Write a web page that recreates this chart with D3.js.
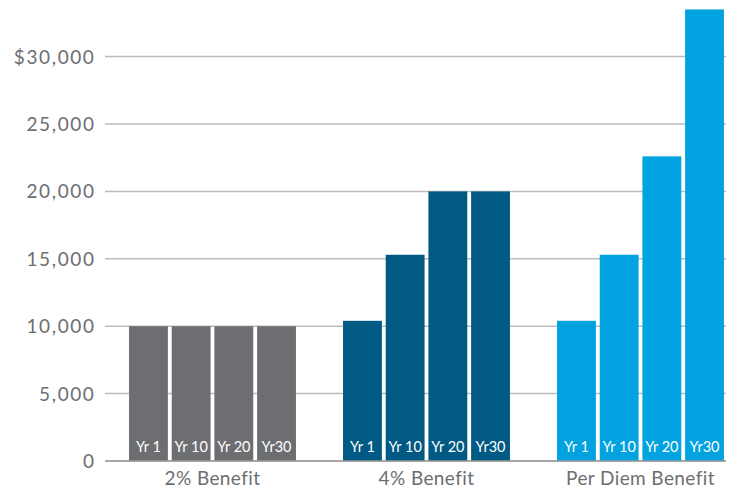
<!DOCTYPE html>
<html>
<head>
<meta charset="utf-8">
<script src="https://cdn.jsdelivr.net/npm/d3@7"></script>
<style>
  body { margin: 0; background: #fff; }
  svg text { font-family: "Lato", "Open Sans", sans-serif; }
</style>
</head>
<body>
<svg id="chart" width="732" height="491"></svg>
<script>
// data
const groups = ["2% Benefit", "4% Benefit", "Per Diem Benefit"];
const years = ["Yr 1", "Yr 10", "Yr 20", "Yr30"];
const benefit2 = [10000, 10000, 10000, 10000];
const benefit4 = [10400, 15300, 20000, 20000];
const perDiem = [10400, 15300, 22600, 33500];
const yTicks = [0, 5000, 10000, 15000, 20000, 25000, 30000];
const colors = ["#6d6e71", "#005a84", "#00a3e0"];

const series = [benefit2, benefit4, perDiem];

let svg = d3.select("#chart");

let x0 = d3.scaleBand()
    .domain(groups)
    .range([105.5, 747.5])
    .paddingInner(0.22)
    .paddingOuter(0.11);

let x1 = d3.scaleBand()
    .domain(years)
    .range([0, x0.bandwidth()])
    .paddingInner(0.09);

let y = d3.scaleLinear()
    .domain([0, 30000])
    .range([461, 56.6]);

// gridlines
svg.selectAll(".grid")
    .data(yTicks)
    .enter().append("line")
    .attr("class", "grid")
    .attr("x1", 105)
    .attr("x2", 726)
    .attr("y1", d => y(d))
    .attr("y2", d => y(d))
    .attr("stroke", "#bcbcbc")
    .attr("stroke-width", 1.5);

// y labels (letter-spacing to get close to the wider original face)
svg.selectAll(".ylab")
    .data(yTicks)
    .enter().append("text")
    .attr("class", "ylab")
    .attr("x", 95.5)
    .attr("y", d => y(d) + 7)
    .attr("text-anchor", "end")
    .attr("fill", "#6d6e71")
    .style("font-size", "19px")
    .style("letter-spacing", "1.6px")
    .text(d => d === 30000 ? "$" + d3.format(",")(d) : d3.format(",")(d));

// bars
let g = svg.selectAll(".group")
    .data(groups)
    .enter().append("g")
    .attr("class", "group")
    .attr("transform", d => `translate(${x0(d)},0)`);

g.each(function (grp, gi) {
    let vals = series[gi].map((v, i) => ({year: years[i], value: v}));
    let sel = d3.select(this);

    sel.selectAll("rect")
        .data(vals)
        .enter().append("rect")
        .attr("x", d => x1(d.year))
        .attr("width", x1.bandwidth())
        .attr("y", d => y(d.value))
        .attr("height", d => y(0) - y(d.value))
        .attr("fill", colors[gi]);

    sel.selectAll(".blab")
        .data(vals)
        .enter().append("text")
        .attr("class", "blab")
        .attr("x", d => x1(d.year) + x1.bandwidth() / 2)
        .attr("y", 452)
        .attr("text-anchor", "middle")
        .attr("fill", "#fff")
        .style("font-size", "14.5px")
        .text(d => d.year);
});

// baseline on top
svg.append("line")
    .attr("x1", 105)
    .attr("x2", 726)
    .attr("y1", y(0))
    .attr("y2", y(0))
    .attr("stroke", "#9a9a9a")
    .attr("stroke-width", 1.5);

// category labels
svg.selectAll(".xlab")
    .data(groups)
    .enter().append("text")
    .attr("class", "xlab")
    .attr("x", d => x0(d) + x0.bandwidth() / 2)
    .attr("y", 485)
    .attr("text-anchor", "middle")
    .attr("fill", "#6d6e71")
    .style("font-size", "19px")
    .style("letter-spacing", "0.4px")
    .text(d => d);
</script>
</body>
</html>
